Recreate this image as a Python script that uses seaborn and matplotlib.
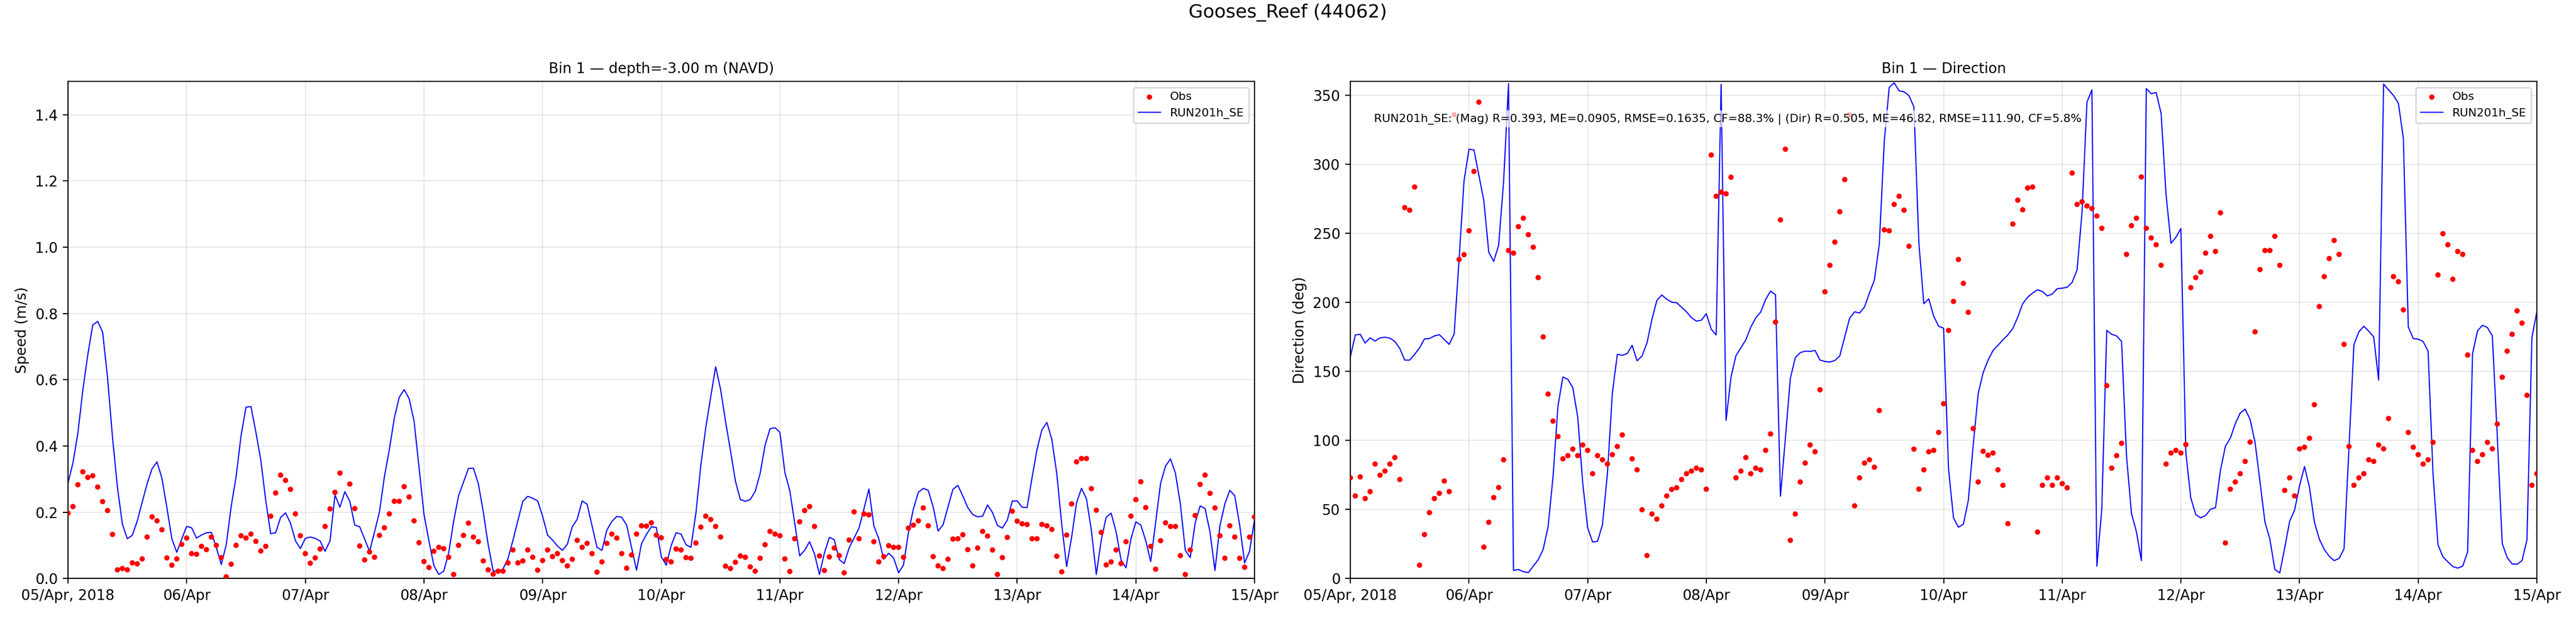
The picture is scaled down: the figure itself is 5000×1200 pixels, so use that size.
import numpy as np
import pandas as pd
import matplotlib
matplotlib.use("Agg")
import matplotlib.pyplot as plt
import matplotlib.dates as mdates
import seaborn as sns

nan = np.nan

# ---------------- data (hourly, 05 Apr 2018 00:00 .. 15 Apr 2018 00:00) ----------------
start_time = "2018-04-05 00:00"
n_hours = 241

speed_model = [
    .288, .349, .439, .569, .675, .765, .776, .744, .606, .426,
    .275, .164, .120, .130, .173, .230, .286, .331, .352, .302,
    .214, .120, .079, .119, .157, .153, .122, .131, .138, .139,
    .093, .042, .101, .217, .307, .431, .517, .519, .442, .357,
    .235, .135, .138, .184, .198, .167, .114, .090, .121, .125,
    .121, .113, .082, .114, .252, .215, .262, .233, .161, .156,
    .119, .082, .140, .201, .307, .389, .484, .547, .570, .543,
    .475, .336, .194, .114, .039, .012, .022, .077, .172, .250,
    .291, .332, .333, .286, .201, .101, .023, .021, .029, .060,
    .115, .175, .233, .248, .242, .234, .188, .131, .116, .098,
    .085, .103, .156, .179, .234, .224, .159, .094, .085, .146,
    .172, .187, .185, .161, .093, .025, .105, .133, .156, .154,
    .066, .040, .099, .138, .134, .102, .094, .196, .341, .455,
    .548, .639, .571, .474, .386, .294, .238, .233, .238, .263,
    .317, .402, .452, .455, .441, .320, .265, .167, .068, .085,
    .111, .074, .012, .077, .124, .117, .057, .045, .092, .122,
    .152, .210, .270, .159, .120, .058, .076, .062, .017, .041,
    .138, .210, .260, .272, .266, .216, .143, .162, .216, .269,
    .281, .249, .214, .193, .186, .188, .222, .199, .160, .152,
    .176, .234, .234, .215, .214, .304, .389, .449, .471, .420,
    .317, .164, .036, .124, .228, .272, .241, .145, .012, .116,
    .185, .197, .141, .056, .032, .119, .171, .161, .114, .051,
    .169, .287, .339, .361, .318, .225, .085, .063, .168, .219,
    .211, .140, .024, .159, .225, .266, .250, .161, .047, .082,
    .177,
]

speed_obs = [
    .197, .217, .283, .322, .305, .310, .276, .232, .205, .133,
    .026, .030, .026, .047, .044, .059, .125, .186, .174, .147,
    .062, .040, .059, .103, .122, .075, .073, .097, .087, .125,
    .100, .063, .005, .043, .100, .129, .122, .134, .112, .083,
    .097, .188, .258, .312, .296, .269, .195, .129, .075, .046,
    .062, .089, .157, .210, .260, .318, nan, .285, .211, .098,
    .056, .080, .064, .130, .153, .195, .233, .233, .277, .246,
    .174, .108, .051, .033, .082, .094, .090, .064, .012, .100,
    .130, .167, .125, .111, .053, .026, .013, .022, .022, .047,
    .086, .047, .053, .086, .064, .025, .054, .086, .066, .075,
    .054, .038, .058, .115, .094, .106, .075, .019, .050, .106,
    .134, .122, .075, .031, .071, .134, .159, .158, .168, .131,
    .123, .057, .050, .089, .086, .063, .061, .107, .155, .188,
    .178, .157, .125, .037, .030, .049, .068, .064, .035, .022,
    .061, .102, .142, .134, .129, .059, .021, .120, .171, .205,
    .217, .157, .068, .024, .065, .092, .069, .017, .116, .201,
    .120, .195, .192, .111, .050, .066, .099, .094, .094, .064,
    .152, .161, .174, .213, .159, .066, .038, .030, .058, .119,
    .120, .132, .087, .038, .092, .142, .128, .086, .012, .063,
    .124, .203, .173, .165, .163, .120, .120, .163, .159, .148,
    .067, .020, .131, .225, .352, .362, .362, .271, .206, .139,
    .041, .050, .086, .045, .111, .188, .238, .292, .214, .097,
    .028, .114, .168, .157, .157, .069, .012, .086, .190, .284,
    .312, .257, .213, .129, .061, .159, .125, .061, .034, .125,
    .186,
]

dir_model = [
    160.5, 176.4, 176.9, 170.6, 174.3, 172.0, 174.3, 174.8, 174.1, 171.7,
    166.6, 158.2, 158.2, 162.4, 167.1, 173.6, 173.8, 175.7, 176.6, 173.1,
    169.6, 177.1, 231.3, 288.1, 311.0, 310.5, 292.1, 273.8, 236.4, 229.7,
    241.4, 287.4, 358.6, 5.8, 6.5, 4.9, 4.2, 8.9, 13.6, 21.0,
    37.4, 73.6, 125.0, 146.0, 144.2, 138.3, 116.8, 69.4, 36.7, 26.4,
    26.9, 39.0, 75.9, 134.3, 162.4, 161.7, 162.9, 168.9, 157.7, 161.2,
    170.6, 187.6, 201.4, 205.4, 202.3, 200.2, 199.8, 196.5, 193.2, 189.0,
    186.4, 187.1, 191.8, 180.6, 176.4, 358.0, 114.5, 146.0, 161.4, 167.1,
    172.9, 182.0, 188.8, 193.0, 202.1, 208.2, 205.6, 59.6, 101.6, 144.9,
    160.0, 163.6, 164.7, 164.5, 165.2, 158.2, 157.2, 156.8, 157.9, 161.2,
    175.0, 188.6, 193.2, 192.3, 196.7, 206.8, 216.1, 242.3, 316.6, 355.8,
    359.1, 353.3, 352.6, 349.8, 341.6, 243.0, 199.1, 202.6, 190.0, 182.7,
    181.3, 79.4, 43.9, 37.1, 39.3, 56.5, 97.0, 133.9, 149.1, 158.2,
    165.2, 168.9, 172.9, 176.4, 181.1, 189.3, 199.1, 203.7, 206.8, 209.1,
    207.9, 204.7, 206.1, 210.0, 210.3, 211.0, 214.5, 223.6, 265.2, 345.1,
    354.0, 8.9, 50.2, 179.7, 176.9, 175.7, 171.7, 88.8, 47.2, 33.9,
    12.9, 354.9, 351.2, 352.1, 336.9, 278.0, 242.8, 247.2, 253.5, 91.1,
    58.4, 46.3, 43.9, 45.6, 50.2, 51.2, 78.3, 95.8, 101.6, 112.1,
    119.9, 122.7, 115.2, 98.6, 70.1, 40.9, 28.5, 6.5, 4.0, 22.2,
    41.4, 49.5, 67.1, 81.1, 66.1, 40.9, 28.5, 21.0, 16.1, 12.9,
    14.5, 21.5, 94.6, 169.4, 178.7, 182.7, 179.2, 175.0, 143.7, 358.2,
    354.0, 350.0, 344.2, 318.9, 182.2, 173.8, 173.4, 171.7, 164.7, 75.9,
    24.5, 15.7, 12.1, 8.6, 7.5, 8.9, 19.2, 162.9, 179.4, 183.4,
    181.8, 175.7, 102.8, 25.2, 15.2, 10.5, 10.3, 12.9, 28.0, 174.5,
    193.2,
]

dir_obs = [
    72.9, 59.8, 73.6, 57.9, 62.9, 82.9, 74.8, 77.8, 82.9, 87.6,
    71.7, 268.7, 266.8, 283.6, 9.6, 31.8, 47.7, 57.9, 61.7, 70.6,
    62.9, 336.0, 231.1, 234.6, 251.9, 294.9, 345.1, 22.7, 40.7, 58.6,
    65.9, 86.0, 237.6, 235.7, 254.9, 261.0, 249.1, 240.0, 218.0, 175.0,
    133.6, 114.0, 102.8, 86.7, 89.0, 93.7, 89.0, 96.7, 92.8, 75.9,
    89.0, 86.0, 82.9, 89.7, 95.6, 104.0, nan, 86.7, 78.7, 49.8,
    16.6, 46.7, 43.0, 52.6, 59.8, 64.5, 65.7, 71.7, 75.9, 77.8,
    79.9, 78.7, 64.7, 306.8, 276.9, 279.9, 278.7, 290.7, 72.9, 77.8,
    87.6, 75.9, 79.9, 78.7, 92.8, 104.7, 185.7, 259.8, 311.0, 27.6,
    46.7, 69.9, 83.6, 96.7, 91.8, 136.7, 207.7, 226.9, 243.7, 265.7,
    289.0, 336.0, 52.6, 72.9, 83.6, 86.0, 80.6, 121.7, 252.6, 251.9,
    271.0, 276.9, 266.8, 240.7, 93.7, 64.7, 78.7, 91.8, 92.8, 105.8,
    126.6, 179.7, 200.7, 231.1, 213.8, 192.8, 108.6, 69.9, 92.1, 89.3,
    90.9, 78.7, 67.5, 39.7, 256.8, 274.1, 267.1, 282.9, 283.6, 33.6,
    67.5, 72.9, 67.5, 72.9, 68.7, 65.7, 293.7, 271.0, 272.9, 269.9,
    268.0, 262.6, 253.7, 139.7, 79.9, 89.0, 97.9, 234.8, 255.6, 261.0,
    290.9, 253.7, 246.7, 241.8, 226.9, 82.9, 90.9, 92.8, 90.9, 97.0,
    210.7, 218.0, 222.0, 235.7, 247.9, 236.9, 264.9, 25.7, 64.7, 69.9,
    75.9, 84.8, 98.8, 178.7, 223.8, 237.6, 237.6, 247.9, 226.9, 63.8,
    72.9, 59.8, 93.9, 95.1, 101.6, 125.9, 197.0, 218.7, 231.8, 244.9,
    234.8, 169.6, 95.6, 67.5, 72.9, 75.9, 86.0, 84.8, 96.7, 93.9,
    115.9, 218.7, 215.0, 194.6, 105.8, 95.1, 89.7, 82.9, 86.0, 98.6,
    219.9, 249.8, 241.8, 216.8, 236.9, 234.8, 161.9, 92.8, 84.8, 89.7,
    98.6, 93.9, 111.9, 145.8, 164.7, 176.9, 193.9, 185.0, 132.7, 67.5,
    75.9,
]

suptitle = "Gooses_Reef (44062)"
title_speed = "Bin 1 \u2014 depth=-3.00 m (NAVD)"
title_dir = "Bin 1 \u2014 Direction"
ylabel_speed = "Speed (m/s)"
ylabel_dir = "Direction (deg)"
obs_label = "Obs"
model_label = "RUN201h_SE"
stats_text = ("RUN201h_SE: (Mag) R=0.393, ME=0.0905, RMSE=0.1635, CF=88.3% | "
              "(Dir) R=0.505, ME=46.82, RMSE=111.90, CF=5.8%")
speed_yticks = [0.0, 0.2, 0.4, 0.6, 0.8, 1.0, 1.2, 1.4]
dir_yticks = [0, 50, 100, 150, 200, 250, 300, 350]

# ---------------- style ----------------
sns.set_style("ticks", rc={
    "axes.edgecolor": "black", "axes.labelcolor": "black", "text.color": "black",
    "xtick.color": "black", "ytick.color": "black",
})
plt.rcParams["font.family"] = ["DejaVu Sans"]
plt.rcParams["font.size"] = 10
plt.rcParams["axes.linewidth"] = 0.8
plt.rcParams["xtick.labelsize"] = 10
plt.rcParams["ytick.labelsize"] = 10

times = pd.date_range(start_time, periods=n_hours, freq="h")
df = pd.DataFrame({
    "time": times,
    "speed_model": speed_model,
    "speed_obs": speed_obs,
    "dir_model": dir_model,
    "dir_obs": dir_obs,
})

fig = plt.figure(figsize=(25, 6), dpi=200)
ax1 = fig.add_axes([0.0264, 0.064, 0.4606, 0.804])
ax2 = fig.add_axes([0.5242, 0.064, 0.4606, 0.804])


def date_fmt(x, pos=None):
    d = mdates.num2date(x)
    if pos == 0:
        return d.strftime("%d/%b, %Y")
    return d.strftime("%d/%b")


def style_axes(ax, ylim, yticks, ylabel, title):
    ax.set_xlim(times[0], times[-1])
    ax.set_ylim(*ylim)
    ax.set_yticks(yticks)
    ax.xaxis.set_major_locator(mdates.DayLocator())
    ax.xaxis.set_major_formatter(plt.FuncFormatter(date_fmt))
    ax.grid(True, color="#cccccc", alpha=0.45, linewidth=0.8)
    ax.set_axisbelow(True)
    ax.set_xlabel("")
    ax.set_ylabel(ylabel, fontsize=10)
    ax.set_title(title, fontsize=10)
    for s in ax.spines.values():
        s.set_visible(True)
        s.set_color("black")
        s.set_linewidth(0.8)
    ax.tick_params(direction="out", length=3.5, width=0.8)
    h, l = ax.get_legend_handles_labels()
    order = [l.index(obs_label), l.index(model_label)]
    ax.legend([h[i] for i in order], [l[i] for i in order],
              loc="upper right", fontsize=8, frameon=True)


for ax, ycol_o, ycol_m in [(ax1, "speed_obs", "speed_model"), (ax2, "dir_obs", "dir_model")]:
    sns.scatterplot(data=df, x="time", y=ycol_o, ax=ax, color="red", s=14,
                    edgecolor="none", linewidth=0, label=obs_label, zorder=3)
    sns.lineplot(data=df, x="time", y=ycol_m, ax=ax, color="blue", linewidth=0.8,
                 label=model_label, zorder=2, estimator=None)

style_axes(ax1, (0, 1.5), speed_yticks, ylabel_speed, title_speed)
style_axes(ax2, (0, 360), dir_yticks, ylabel_dir, title_dir)

ax2.text(0.02, 0.925, stats_text, transform=ax2.transAxes, fontsize=8,
         va="center", ha="left", zorder=5,
         bbox=dict(facecolor="white", alpha=0.7, edgecolor="none", pad=2))

fig.suptitle(suptitle, fontsize=13, y=0.994, va="top")

fig.savefig("out.png", dpi=200)
